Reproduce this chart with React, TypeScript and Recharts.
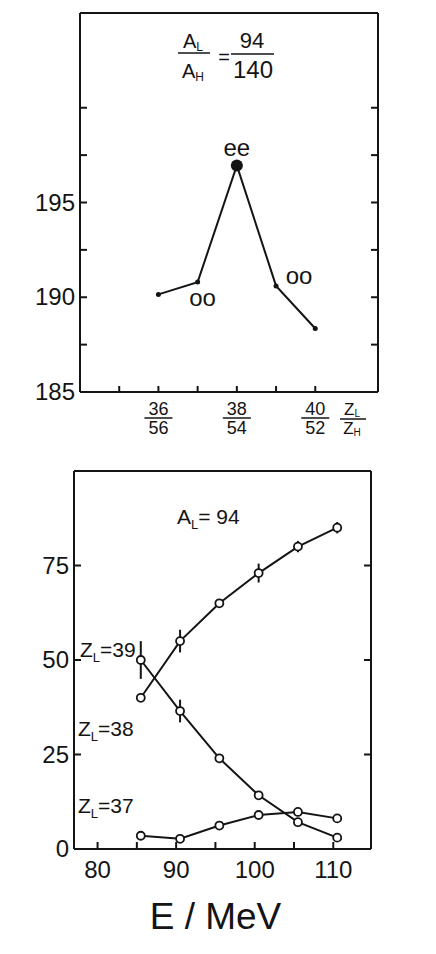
import React from 'react';
import { LineChart, Line, XAxis, YAxis, ErrorBar, Customized } from 'recharts';

// top panel: energy vs charge split for A_L/A_H = 94/140
const zLight = [36, 37, 38, 39, 40];
const topValues = [190.15, 190.8, 196.95, 190.6, 188.35];
const pointTags = ['', 'oo', 'ee', 'oo', ''];
const topYTicks = [185, 187.5, 190, 192.5, 195, 197.5, 200];
const topYLabels = [185, 190, 195];
const topXTicks = [35, 36, 37, 38, 39, 40];
const fracLabels: Record<number, [string, string]> = {
  36: ['36', '56'],
  38: ['38', '54'],
  40: ['40', '52'],
};

// bottom panel: yields vs excitation energy, A_L = 94
const energy = [85.5, 90.5, 95.5, 100.5, 105.5, 110.5];
const z38 = [40, 55, 65, 73, 80, 85];
const z38Err = [0, 3, 1, 2.5, 1.5, 1.5];
const z39 = [50, 36.5, 24, 14.2, 7.1, 3];
const z39Err = [5, 3, 0, 0, 0, 0];
const z37 = [3.5, 2.7, 6.2, 9, 9.8, 8.1];
const botYTicks = [0, 25, 50, 75];
const botXTicks = [80, 85, 90, 95, 100, 105, 110];
const botXLabels = [80, 90, 100, 110];

const INK = '#141414';
const FONT = '"Liberation Sans", Arial, sans-serif';

const topData = zLight.map((z, i) => ({ z, v: topValues[i], tag: pointTags[i] }));
const botData = energy.map((e, i) => ({
  e,
  z37: z37[i],
  z38: z38[i],
  z38Err: z38Err[i],
  z39: z39[i],
  z39Err: z39Err[i],
}));

const LeftTick = ({ x, y, payload, labels, size }: any) => (
  <g>
    <line x1={x} y1={y} x2={x + 7} y2={y} stroke={INK} strokeWidth={2} />
    {labels.includes(payload.value) && (
      <text x={x - 5} y={y} dy={8} textAnchor="end" fontSize={size} fontFamily={FONT} fill={INK}>
        {payload.value}
      </text>
    )}
  </g>
);

const RightTick = ({ x, y }: any) => (
  <line x1={x} y1={y} x2={x - 7} y2={y} stroke={INK} strokeWidth={2} />
);

const TopXTick = ({ x, y, payload }: any) => {
  const f = fracLabels[payload.value];
  return (
    <g>
      <line x1={x} y1={y} x2={x} y2={y - 6} stroke={INK} strokeWidth={2} />
      {f && (
        <g fontFamily={FONT} fontSize={18} fill={INK} textAnchor="middle">
          <text x={x} y={y + 23}>{f[0]}</text>
          <line x1={x - 14} y1={y + 26} x2={x + 14} y2={y + 26} stroke={INK} strokeWidth={1.5} />
          <text x={x} y={y + 42}>{f[1]}</text>
        </g>
      )}
    </g>
  );
};

const BotXTick = ({ x, y, payload }: any) => (
  <g>
    <line x1={x} y1={y} x2={x} y2={y - 7} stroke={INK} strokeWidth={2} />
    {botXLabels.includes(payload.value) && (
      <text x={x} y={y + 29} textAnchor="middle" fontSize={24} fontFamily={FONT} fill={INK}>
        {payload.value}
      </text>
    )}
  </g>
);

const TopDot = ({ cx, cy, index }: any) =>
  index === 2 ? (
    <circle key={index} cx={cx} cy={cy} r={6} fill={INK} />
  ) : (
    <circle key={index} cx={cx} cy={cy} r={2.5} fill={INK} />
  );

const tagOffset = [null, [5, 24], [0, -10], [23, -2], null];
const TagLabel = ({ x, y, index }: any) => {
  const off = tagOffset[index];
  if (!off || !pointTags[index]) return null;
  return (
    <text key={index} x={x + off[0]} y={y + off[1]} textAnchor="middle" fontSize={24} fontFamily={FONT} fill={INK}>
      {pointTags[index]}
    </text>
  );
};

const TopNotes = () => (
  <g fontFamily={FONT} fill={INK}>
    <text x={193} y={48} textAnchor="middle" fontSize={20}>
      A<tspan fontSize={12} dy={3}>L</tspan>
    </text>
    <line x1={178} y1={53} x2={210} y2={53} stroke={INK} strokeWidth={1.5} />
    <text x={193} y={78} textAnchor="middle" fontSize={20}>
      A<tspan fontSize={12} dy={3}>H</tspan>
    </text>
    <text x={224} y={64} textAnchor="middle" fontSize={20}>=</text>
    <text x={252} y={48} textAnchor="middle" fontSize={22}>94</text>
    <line x1={231} y1={54} x2={274} y2={54} stroke={INK} strokeWidth={1.5} />
    <text x={253} y={78} textAnchor="middle" fontSize={24}>140</text>
    <text x={352} y={415} textAnchor="middle" fontSize={17}>
      Z<tspan fontSize={10} dy={2}>L</tspan>
    </text>
    <line x1={340} y1={419} x2={366} y2={419} stroke={INK} strokeWidth={1.5} />
    <text x={352} y={434} textAnchor="middle" fontSize={17}>
      Z<tspan fontSize={10} dy={2}>H</tspan>
    </text>
  </g>
);

const Zlabel = ({ x, y, n }: { x: number; y: number; n: string }) => (
  <text x={x} y={y} fontSize={21} fontFamily={FONT} fill={INK}>
    Z<tspan fontSize={13} dy={5}>L</tspan>
    <tspan dy={-5}>={n}</tspan>
  </text>
);

const BotNotes = () => (
  <g>
    <text x={177} y={74} fontSize={21} fontFamily={FONT} fill={INK}>
      A<tspan fontSize={13} dy={5}>L</tspan>
      <tspan dy={-5}>= 94</tspan>
    </text>
    <Zlabel x={80} y={207} n="39" />
    <Zlabel x={78} y={286} n="38" />
    <Zlabel x={78} y={363} n="37" />
  </g>
);

const openDot = { r: 4, fill: '#fff', stroke: INK, strokeWidth: 1.8 };

export default function App() {
  return (
    <div style={{ position: 'absolute', left: 0, top: 0, width: 436, height: 954, background: '#fff' }}>
      <div style={{ position: 'absolute', left: 0, top: 0 }}>
        <LineChart width={436} height={440} data={topData} margin={{ top: 12, right: 57, left: 40, bottom: 3 }}>
          <XAxis
            dataKey="z"
            type="number"
            domain={[34, 41.6]}
            ticks={topXTicks}
            allowDataOverflow
            height={45}
            tickSize={0}
            tickMargin={0}
            tickLine={false}
            tick={<TopXTick />}
            axisLine={{ stroke: INK, strokeWidth: 2 }}
          />
          <XAxis xAxisId="top" orientation="top" dataKey="z" type="number" domain={[34, 41.6]} allowDataOverflow height={1} tick={false} tickLine={false} axisLine={{ stroke: INK, strokeWidth: 2 }} />
          <YAxis
            type="number"
            domain={[185, 205]}
            ticks={topYTicks}
            allowDataOverflow
            width={40}
            tickSize={0}
            tickMargin={0}
            tickLine={false}
            tick={<LeftTick labels={topYLabels} size={24} />}
            axisLine={{ stroke: INK, strokeWidth: 2 }}
          />
          <YAxis
            yAxisId="r"
            orientation="right"
            type="number"
            domain={[185, 205]}
            ticks={topYTicks}
            allowDataOverflow
            width={1}
            tickSize={0}
            tickMargin={0}
            tickLine={false}
            tick={<RightTick />}
            axisLine={{ stroke: INK, strokeWidth: 2 }}
          />
          <Line xAxisId="top" yAxisId="r" dataKey="v" stroke="none" dot={false} activeDot={false} isAnimationActive={false} />
          <Line dataKey="v" stroke={INK} strokeWidth={2} dot={<TopDot />} label={<TagLabel />} isAnimationActive={false} />
          <Customized component={TopNotes} />
        </LineChart>
      </div>
      <div style={{ position: 'absolute', left: 0, top: 450 }}>
        <LineChart width={436} height={504} data={botData} margin={{ top: 20, right: 64, left: 34, bottom: 5 }}>
          <XAxis
            dataKey="e"
            type="number"
            domain={[77, 114.8]}
            ticks={botXTicks}
            allowDataOverflow
            height={100}
            tickSize={0}
            tickMargin={0}
            tickLine={false}
            tick={<BotXTick />}
            axisLine={{ stroke: INK, strokeWidth: 2 }}
            label={{ value: 'E / MeV', position: 'insideBottom', offset: 20, dx: -7, fontSize: 37, fontFamily: FONT, fill: INK }}
          />
          <XAxis xAxisId="top" orientation="top" dataKey="e" type="number" domain={[77, 114.8]} allowDataOverflow height={1} tick={false} tickLine={false} axisLine={{ stroke: INK, strokeWidth: 2 }} />
          <YAxis
            type="number"
            domain={[0, 100]}
            ticks={botYTicks}
            allowDataOverflow
            width={40}
            tickSize={0}
            tickMargin={0}
            tickLine={false}
            tick={<LeftTick labels={botYTicks} size={24} />}
            axisLine={{ stroke: INK, strokeWidth: 2 }}
          />
          <YAxis
            yAxisId="r"
            orientation="right"
            type="number"
            domain={[0, 100]}
            ticks={[25, 50, 75]}
            allowDataOverflow
            width={1}
            tickSize={0}
            tickMargin={0}
            tickLine={false}
            tick={<RightTick />}
            axisLine={{ stroke: INK, strokeWidth: 2 }}
          />
          <Line xAxisId="top" yAxisId="r" dataKey="z38" stroke="none" dot={false} activeDot={false} isAnimationActive={false} />
          <Line dataKey="z38" stroke={INK} strokeWidth={2} dot={openDot} isAnimationActive={false}>
            <ErrorBar dataKey="z38Err" direction="y" width={0} stroke={INK} strokeWidth={2} />
          </Line>
          <Line dataKey="z39" stroke={INK} strokeWidth={2} dot={openDot} isAnimationActive={false}>
            <ErrorBar dataKey="z39Err" direction="y" width={0} stroke={INK} strokeWidth={2} />
          </Line>
          <Line dataKey="z37" stroke={INK} strokeWidth={2} dot={openDot} isAnimationActive={false} />
          <Customized component={BotNotes} />
        </LineChart>
      </div>
    </div>
  );
}
